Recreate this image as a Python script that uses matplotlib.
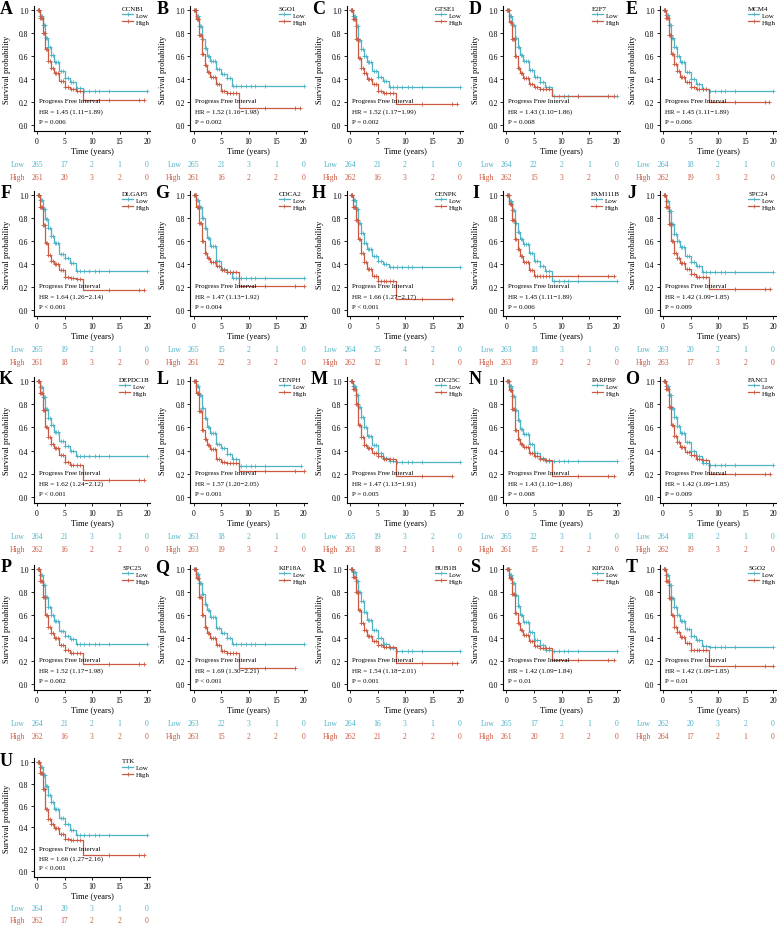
import numpy as np
import matplotlib
matplotlib.use('Agg')
from matplotlib import pyplot as plt
from matplotlib import transforms

plt.rcParams['font.family'] = ['Liberation Serif', 'DejaVu Serif']

# kleuren van de twee groepen
low_col = '#4FB3C6'
high_col = '#CC5A42'

letters = list('ABCDEFGHIJKLMNOPQRSTU')
genes = ['CCNB1', 'SGO1', 'GTSE1', 'E2F7', 'MCM4', 'DLGAP5', 'CDCA2', 'CENPK', 'FAM111B', 'SPC24',
         'DEPDC1B', 'CENPH', 'CDC25C', 'PARPBP', 'FANCI', 'SPC25', 'KIF18A', 'BUB1B', 'KIF20A', 'SGO2', 'TTK']
hr_text = ['1.45 (1.11\u22121.89)', '1.52 (1.16\u22121.98)', '1.52 (1.17\u22121.99)', '1.43 (1.10\u22121.86)',
           '1.45 (1.11\u22121.89)', '1.64 (1.26\u22122.14)', '1.47 (1.13\u22121.92)', '1.66 (1.27\u22122.17)',
           '1.45 (1.11\u22121.89)', '1.42 (1.09\u22121.85)', '1.62 (1.24\u22122.12)', '1.57 (1.20\u22122.05)',
           '1.47 (1.13\u22121.91)', '1.43 (1.10\u22121.86)', '1.42 (1.09\u22121.85)', '1.52 (1.17\u22121.98)',
           '1.69 (1.30\u22122.21)', '1.54 (1.18\u22122.01)', '1.42 (1.09\u22121.84)', '1.42 (1.09\u22121.85)',
           '1.66 (1.27\u22122.16)']
p_text = ['= 0.006', '= 0.002', '= 0.002', '= 0.008', '= 0.006', '< 0.001', '= 0.004', '< 0.001',
          '= 0.006', '= 0.009', '< 0.001', '= 0.001', '= 0.005', '= 0.008', '= 0.009', '= 0.002',
          '< 0.001', '= 0.001', '= 0.01', '= 0.01', '< 0.001']

risk_times = [0, 5, 10, 15, 20]
risk_low = [[265, 17, 2, 1, 0], [265, 21, 3, 1, 0], [264, 21, 2, 1, 0], [264, 22, 2, 1, 0], [264, 18, 2, 1, 0],
            [265, 19, 2, 1, 0], [265, 15, 2, 1, 0], [264, 25, 4, 2, 0], [263, 18, 3, 1, 0], [263, 20, 2, 1, 0],
            [264, 21, 3, 1, 0], [263, 18, 2, 1, 0], [265, 19, 3, 2, 0], [265, 22, 3, 1, 0], [264, 18, 2, 1, 0],
            [264, 21, 2, 1, 0], [263, 22, 3, 1, 0], [264, 16, 3, 1, 0], [265, 17, 2, 1, 0], [262, 20, 3, 2, 0],
            [264, 20, 3, 1, 0]]
risk_high = [[261, 20, 3, 2, 0], [261, 16, 2, 2, 0], [262, 16, 3, 2, 0], [262, 15, 3, 2, 0], [262, 19, 3, 2, 0],
             [261, 18, 3, 2, 0], [261, 22, 3, 2, 0], [262, 12, 1, 1, 0], [263, 19, 2, 2, 0], [263, 17, 3, 2, 0],
             [262, 16, 2, 2, 0], [263, 19, 3, 2, 0], [261, 18, 2, 1, 0], [261, 15, 2, 2, 0], [262, 19, 3, 2, 0],
             [262, 16, 3, 2, 0], [263, 15, 2, 2, 0], [262, 21, 2, 2, 0], [261, 20, 3, 2, 0], [264, 17, 2, 1, 0],
             [262, 17, 2, 2, 0]]

grid_t = [0, 0.5, 1, 1.5, 2, 2.5, 3, 4, 5, 6, 7, 8.3]
surv_low = [
    [1, 0.95, 0.87, 0.76, 0.68, 0.61, 0.55, 0.47, 0.41, 0.37, 0.32, 0.30],
    [1, 0.95, 0.86, 0.75, 0.67, 0.60, 0.56, 0.49, 0.44, 0.41, 0.34, 0.34],
    [1, 0.95, 0.86, 0.74, 0.66, 0.60, 0.55, 0.47, 0.42, 0.38, 0.33, 0.33],
    [1, 0.95, 0.87, 0.76, 0.68, 0.61, 0.56, 0.48, 0.42, 0.37, 0.33, 0.25],
    [1, 0.96, 0.87, 0.76, 0.68, 0.60, 0.55, 0.46, 0.40, 0.36, 0.31, 0.30],
    [1, 0.96, 0.88, 0.79, 0.71, 0.64, 0.58, 0.49, 0.45, 0.41, 0.34, 0.34],
    [1, 0.96, 0.90, 0.80, 0.71, 0.63, 0.56, 0.43, 0.36, 0.33, 0.28, 0.28],
    [1, 0.96, 0.88, 0.76, 0.67, 0.58, 0.53, 0.47, 0.43, 0.40, 0.37, 0.37],
    [1, 0.95, 0.87, 0.76, 0.68, 0.62, 0.57, 0.50, 0.43, 0.38, 0.34, 0.25],
    [1, 0.95, 0.86, 0.75, 0.66, 0.60, 0.55, 0.47, 0.42, 0.38, 0.33, 0.33],
    [1, 0.95, 0.86, 0.76, 0.68, 0.62, 0.56, 0.48, 0.44, 0.40, 0.35, 0.35],
    [1, 0.96, 0.88, 0.77, 0.68, 0.60, 0.55, 0.46, 0.42, 0.37, 0.33, 0.27],
    [1, 0.96, 0.88, 0.78, 0.69, 0.60, 0.53, 0.45, 0.38, 0.34, 0.31, 0.30],
    [1, 0.96, 0.87, 0.75, 0.66, 0.59, 0.54, 0.46, 0.38, 0.34, 0.31, 0.31],
    [1, 0.96, 0.88, 0.77, 0.69, 0.61, 0.55, 0.47, 0.40, 0.35, 0.29, 0.28],
    [1, 0.95, 0.86, 0.76, 0.67, 0.60, 0.55, 0.46, 0.42, 0.39, 0.35, 0.35],
    [1, 0.96, 0.88, 0.78, 0.70, 0.64, 0.58, 0.49, 0.44, 0.40, 0.35, 0.35],
    [1, 0.97, 0.90, 0.80, 0.72, 0.63, 0.56, 0.47, 0.40, 0.35, 0.31, 0.29],
    [1, 0.95, 0.88, 0.77, 0.68, 0.60, 0.54, 0.45, 0.38, 0.34, 0.30, 0.29],
    [1, 0.95, 0.86, 0.75, 0.67, 0.60, 0.55, 0.48, 0.42, 0.38, 0.33, 0.32],
    [1, 0.95, 0.88, 0.78, 0.70, 0.63, 0.57, 0.49, 0.43, 0.38, 0.33, 0.33]]
surv_high = [
    [1, 0.93, 0.80, 0.66, 0.56, 0.50, 0.45, 0.38, 0.33, 0.31, 0.30, 0.22],
    [1, 0.92, 0.78, 0.62, 0.52, 0.46, 0.42, 0.36, 0.30, 0.28, 0.28, 0.15],
    [1, 0.92, 0.75, 0.58, 0.50, 0.45, 0.40, 0.36, 0.30, 0.28, 0.28, 0.18],
    [1, 0.90, 0.75, 0.60, 0.50, 0.45, 0.41, 0.36, 0.33, 0.31, 0.31, 0.25],
    [1, 0.93, 0.78, 0.62, 0.53, 0.47, 0.42, 0.37, 0.33, 0.31, 0.31, 0.20],
    [1, 0.90, 0.74, 0.58, 0.48, 0.43, 0.40, 0.35, 0.29, 0.28, 0.27, 0.17],
    [1, 0.90, 0.76, 0.60, 0.50, 0.45, 0.42, 0.38, 0.35, 0.33, 0.33, 0.21],
    [1, 0.90, 0.78, 0.62, 0.50, 0.42, 0.36, 0.30, 0.25, 0.25, 0.25, 0.10],
    [1, 0.92, 0.78, 0.62, 0.53, 0.47, 0.42, 0.35, 0.30, 0.30, 0.30, 0.30],
    [1, 0.90, 0.75, 0.60, 0.50, 0.45, 0.41, 0.36, 0.31, 0.29, 0.29, 0.18],
    [1, 0.90, 0.75, 0.60, 0.52, 0.46, 0.42, 0.36, 0.30, 0.28, 0.28, 0.15],
    [1, 0.90, 0.74, 0.58, 0.50, 0.45, 0.41, 0.33, 0.30, 0.29, 0.29, 0.22],
    [1, 0.93, 0.80, 0.62, 0.52, 0.45, 0.42, 0.38, 0.35, 0.33, 0.33, 0.18],
    [1, 0.92, 0.76, 0.58, 0.50, 0.46, 0.43, 0.38, 0.35, 0.33, 0.32, 0.18],
    [1, 0.93, 0.78, 0.62, 0.53, 0.47, 0.43, 0.39, 0.36, 0.33, 0.32, 0.20],
    [1, 0.90, 0.76, 0.60, 0.50, 0.44, 0.40, 0.34, 0.30, 0.27, 0.27, 0.17],
    [1, 0.92, 0.76, 0.60, 0.50, 0.44, 0.40, 0.34, 0.29, 0.27, 0.27, 0.14],
    [1, 0.93, 0.80, 0.64, 0.53, 0.47, 0.42, 0.37, 0.34, 0.32, 0.32, 0.18],
    [1, 0.92, 0.78, 0.62, 0.53, 0.47, 0.43, 0.37, 0.33, 0.31, 0.31, 0.21],
    [1, 0.90, 0.75, 0.60, 0.50, 0.45, 0.41, 0.36, 0.30, 0.30, 0.30, 0.16],
    [1, 0.90, 0.75, 0.57, 0.48, 0.43, 0.39, 0.34, 0.29, 0.28, 0.28, 0.15]]
end_low = [20, 20, 20, 20, 20, 20, 20, 20, 20, 20, 20, 19.5, 20, 20, 20, 20, 20, 20, 20, 20, 20]
end_high = [19.5, 19.3, 19.5, 19.5, 19.3, 19.5, 20, 18.5, 19.5, 19.5, 19.5, 20, 18.5, 19.5, 19.5, 19.5,
            18.5, 19.5, 19.5, 20, 19.5]

# gecensureerde tijdstippen (plusjes)
cens_early = [0.15, 0.3, 0.45, 0.6, 0.75, 0.9, 1.05, 1.2, 1.4, 1.6, 1.8, 2.0, 2.3, 2.6, 2.9, 3.2,
              3.5, 3.9, 4.3, 4.7, 5.1, 5.6, 6.1, 6.6, 7.2, 7.8]
tail_low = [8.6, 9.5, 10.5, 11.2, 13.0]
tail_high = [13.0, 18.5]

W, H = 777, 928
col_t0 = [37, 193.5, 350, 506.5, 663]      # pixel van t = 0
row_y1 = [11, 196, 382, 570, 763]          # pixel van S = 1.0
row_unit = [115, 115, 116, 115, 109]       # pixels per eenheid kans
px_per_year = 5.5

fig = plt.figure(figsize=(W / 100, H / 100), dpi=100)


def draw_curve(ax, surv, end, cens, col):
    t = grid_t + [end]
    s = surv + [surv[-1]]
    ax.step(t, s, where='post', color=col, lw=0.9, label=None)
    ct = [c for c in cens if c < end] + [end]
    cs = [surv[np.searchsorted(grid_t, c, side='right') - 1] for c in ct]
    ax.plot(ct, cs, ls='none', marker='+', ms=3.2, mew=0.6, color=col)


for i, gene in enumerate(genes):
    r, c = divmod(i, 5)
    t0 = col_t0[c]
    y1 = row_y1[r]
    u = row_unit[r]
    left = t0 - 0.55 * px_per_year
    width = 21.1 * px_per_year
    top = y1 - 0.035 * u
    height = 1.087 * u
    ax = fig.add_axes([left / W, 1 - (top + height) / H, width / W, height / H])

    draw_curve(ax, surv_low[i], end_low[i], cens_early + tail_low, low_col)
    draw_curve(ax, surv_high[i], end_high[i], cens_early + tail_high, high_col)

    ax.set_xlim(-0.55, 20.55)
    ax.set_ylim(-0.052, 1.035)
    ax.set_xticks([0, 5, 10, 15, 20])
    ax.set_yticks([0, 0.2, 0.4, 0.6, 0.8, 1.0])
    ax.set_yticklabels(['0.0', '0.2', '0.4', '0.6', '0.8', '1.0'])
    ax.tick_params(labelsize=5.5, length=2.5, width=0.6, pad=1.5)
    for side in ['top', 'right']:
        ax.spines[side].set_visible(False)
    for side in ['left', 'bottom']:
        ax.spines[side].set_linewidth(0.8)
    ax.set_ylabel('Survival probability', fontsize=6)
    ax.yaxis.set_label_coords(-0.2, 0.5)
    ax.set_xlabel('Time (years)', fontsize=6)
    ax.xaxis.set_label_coords(0.5, -0.13)

    ax.text(0.3, 0.21, 'Progress Free Interval', fontsize=5, va='center')
    ax.text(0.3, 0.12, 'HR = ' + hr_text[i], fontsize=5, va='center')
    ax.text(0.3, 0.03, 'P ' + p_text[i], fontsize=5, va='center')

    h1, = ax.plot([], [], color=low_col, lw=0.9, marker='+', ms=3.2, mew=0.6)
    h2, = ax.plot([], [], color=high_col, lw=0.9, marker='+', ms=3.2, mew=0.6)
    leg = ax.legend([h1, h2], ['Low', 'High'], title=gene, loc='upper right', bbox_to_anchor=(1.0, 1.0),
                    frameon=False, fontsize=5, title_fontsize=5, handlelength=1.6, handletextpad=0.4,
                    labelspacing=0.15, borderpad=0, borderaxespad=0)
    leg._legend_box.align = 'left'

    # paneel letter
    fig.text((t0 - 31) / W, 1 - (y1 - 2) / H, letters[i], fontsize=13, fontweight='bold',
             ha='center', va='center')

    # risicotabel onder de grafiek
    tr = transforms.blended_transform_factory(ax.transData, fig.transFigure)
    for name, vals, col, f in [('Low', risk_low[i], low_col, 1.34), ('High', risk_high[i], high_col, 1.45)]:
        yy = 1 - (y1 + f * u) / H
        ax.text(-2.2, yy, name, transform=tr, fontsize=5.5, color=col, ha='right', va='center', clip_on=False)
        for tt, v in zip(risk_times, vals):
            ax.text(tt, yy, str(v), transform=tr, fontsize=5.5, color=col, ha='center', va='center',
                    clip_on=False)

plt.savefig('out.png', dpi=100)
